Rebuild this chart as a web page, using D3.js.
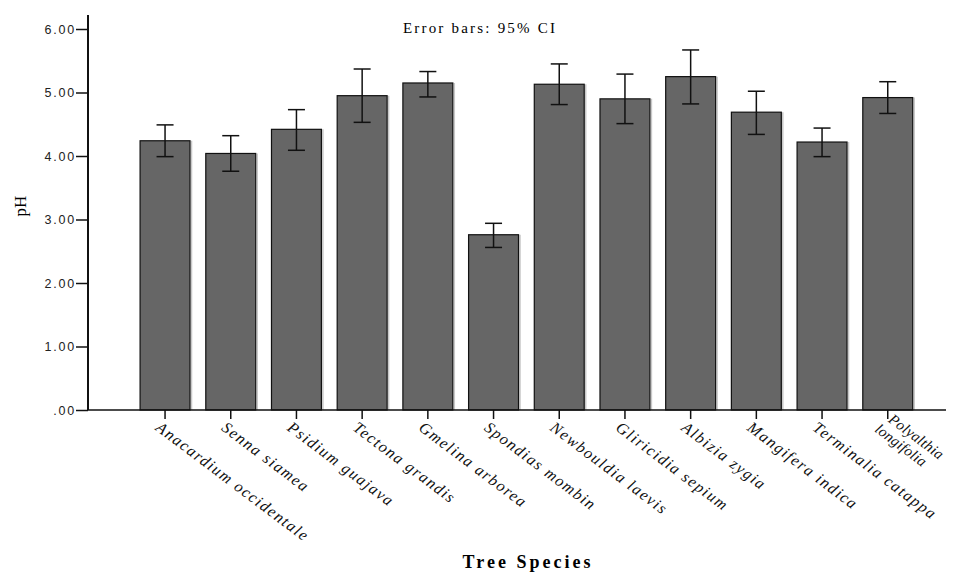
<!DOCTYPE html>
<meta charset="utf-8">
<style>
    body { margin: 0; background: #fff; }
    .tick text { font-family: "Liberation Sans", Arial, sans-serif; font-size: 12.5px; letter-spacing: 1.8px; fill: #222; }
    .xlab { font-family: "Liberation Serif", serif; font-style: italic; font-size: 16px; letter-spacing: 1.4px; fill: #111; }
</style>
<body>
<div id="chart"></div>
<script src="https://d3js.org/d3.v7.min.js"></script>
<script>

    // data
    var species = ["Anacardium occidentale", "Senna siamea", "Psidium guajava", "Tectona grandis",
        "Gmelina arborea", "Spondias mombin", "Newbouldia laevis", "Gliricidia sepium",
        "Albizia zygia", "Mangifera indica", "Terminalia catappa", "Polyalthia longifolia"];
    var means = [4.24, 4.04, 4.42, 4.95, 5.15, 2.76, 5.13, 4.90, 5.25, 4.69, 4.22, 4.92];
    var ciLow = [3.99, 3.76, 4.09, 4.53, 4.93, 2.56, 4.81, 4.51, 4.82, 4.34, 3.99, 4.67];
    var ciHigh = [4.49, 4.32, 4.73, 5.37, 5.33, 2.94, 5.45, 5.29, 5.67, 5.02, 4.44, 5.17];
    var yTicks = [0, 1, 2, 3, 4, 5, 6];

    var svg_dx = 954, svg_dy = 575;
    var axisX = 88, baseY = 410;

    var x = d3.scaleBand().domain(species).range([132.2, 920.6]).paddingInner(0.24).paddingOuter(0.12);
    var y = d3.scaleLinear().domain([0, 6]).range([baseY, 29]);

    var svg = d3.select("#chart").append("svg")
        .attr("width", svg_dx).attr("height", svg_dy);

    // bars, with the faint light edge on the right
    var bars = svg.append("g");
    bars.selectAll("line")
        .data(means)
        .enter().append("line")
        .attr("x1", function (d, i) { return x(species[i]) + x.bandwidth() + 1.5; })
        .attr("x2", function (d, i) { return x(species[i]) + x.bandwidth() + 1.5; })
        .attr("y1", function (d) { return y(d); })
        .attr("y2", baseY)
        .attr("stroke", "#c8c8c8")
        .attr("stroke-width", 1.5);
    bars.selectAll("rect")
        .data(means)
        .enter().append("rect")
        .attr("x", function (d, i) { return x(species[i]); })
        .attr("y", function (d) { return y(d); })
        .attr("width", x.bandwidth())
        .attr("height", function (d) { return baseY - y(d); })
        .attr("fill", "#666666")
        .attr("stroke", "#111")
        .attr("stroke-width", 1.2);

    // error bars
    var cap = 8.5;
    var eb = svg.append("g").attr("stroke", "#111").attr("stroke-width", 1.5);
    species.forEach(function (s, i) {
        var cx = x(s) + x.bandwidth() / 2;
        eb.append("line").attr("x1", cx).attr("x2", cx).attr("y1", y(ciLow[i])).attr("y2", y(ciHigh[i]));
        eb.append("line").attr("x1", cx - cap).attr("x2", cx + cap).attr("y1", y(ciLow[i])).attr("y2", y(ciLow[i]));
        eb.append("line").attr("x1", cx - cap).attr("x2", cx + cap).attr("y1", y(ciHigh[i])).attr("y2", y(ciHigh[i]));
    });

    // y axis
    var yAxis = svg.append("g")
        .attr("transform", "translate(" + axisX + ",0)")
        .call(d3.axisLeft(y).tickValues(yTicks).tickSize(12).tickPadding(0)
            .tickFormat(function (d) { return d === 0 ? ".00" : d3.format(".2f")(d); }));
    yAxis.select(".domain").remove();
    yAxis.selectAll(".tick line").attr("stroke", "#111").attr("stroke-width", 1.5);
    svg.append("line").attr("x1", axisX).attr("x2", axisX).attr("y1", 15).attr("y2", baseY)
        .attr("stroke", "#111").attr("stroke-width", 2);

    // x axis
    var xAxis = svg.append("g")
        .attr("transform", "translate(0," + baseY + ")")
        .call(d3.axisBottom(x).tickSize(9).tickFormat(""));
    xAxis.select(".domain").remove();
    xAxis.selectAll(".tick line").attr("stroke", "#111").attr("stroke-width", 1.5);
    svg.append("line").attr("x1", axisX).attr("x2", 946).attr("y1", baseY).attr("y2", baseY)
        .attr("stroke", "#111").attr("stroke-width", 1.5);

    // rotated category labels
    species.forEach(function (s, i) {
        var cx = x(s) + x.bandwidth() / 2;
        var t = svg.append("text")
            .attr("class", "xlab")
            .attr("transform", "translate(" + (cx - 3) + "," + (baseY + 10) + ") rotate(37)");
        if (s === "Polyalthia longifolia") {
            // last label wraps onto two lines and is squeezed to stay inside the frame
            t.style("font-size", "15px").style("letter-spacing", "0.2px");
            t.append("tspan").attr("x", 3).attr("y", -12).attr("dy", "0.75em").text("Polyalthia");
            t.append("tspan").attr("x", -2).attr("y", 4).attr("dy", "0.75em").text("longifolia");
        } else {
            t.attr("dy", "0.75em").text(s);
        }
    });

    // titles
    svg.append("text")
        .attr("x", 480).attr("y", 33)
        .attr("text-anchor", "middle")
        .style("font-family", "Liberation Serif, serif").style("font-size", "15px")
        .style("letter-spacing", "2.2px")
        .text("Error bars: 95% CI");

    svg.append("text")
        .attr("transform", "translate(26,206) rotate(-90)")
        .attr("text-anchor", "middle")
        .style("font-family", "Liberation Serif, serif").style("font-size", "17px")
        .text("pH");

    svg.append("text")
        .attr("x", 528).attr("y", 568)
        .attr("text-anchor", "middle")
        .style("font-family", "Liberation Serif, serif").style("font-size", "18px")
        .style("font-weight", "bold").style("letter-spacing", "3px")
        .text("Tree Species");

</script>
</body>
